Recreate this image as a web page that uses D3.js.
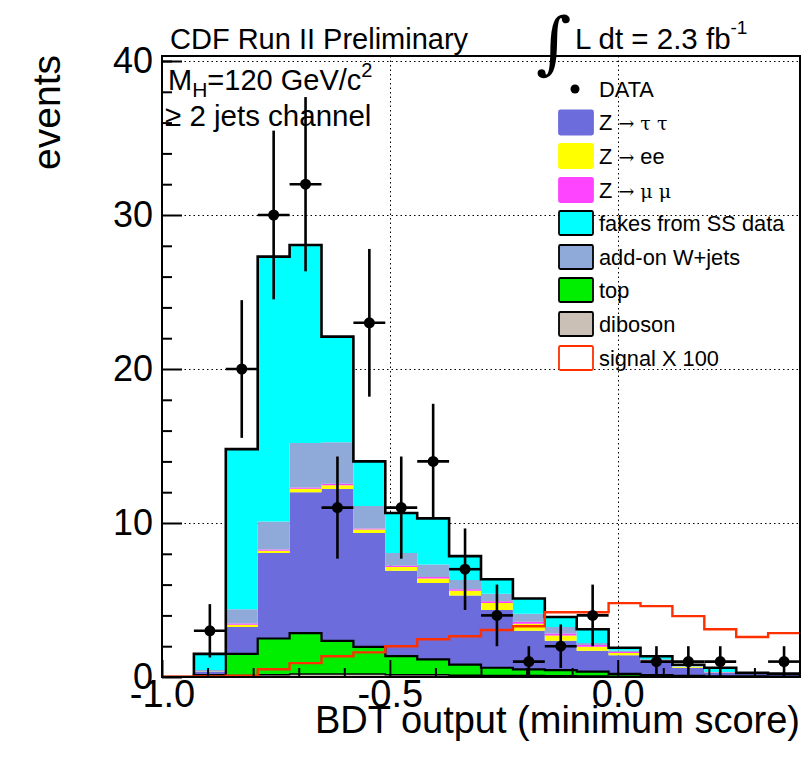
<!DOCTYPE html>
<html><head><meta charset="utf-8">
<script src="https://cdn.jsdelivr.net/npm/d3@7"></script>
<style>
body{margin:0;background:#fff}
svg{display:block;font-family:"Liberation Sans",Arial,Helvetica,sans-serif}
</style>
</head><body>
<svg id="chart" width="807" height="763"></svg>
<script>
// BDT output bins (lower edges) and the upper edge of the last bin
const binLow = [-1.00,-0.93,-0.86,-0.79,-0.72,-0.65,-0.58,-0.51,-0.44,-0.37,
                -0.30,-0.23,-0.16,-0.09,-0.02, 0.05, 0.12, 0.19, 0.26, 0.33];
const binHigh = 0.40;

// Observed events per bin
const dataCounts = [0,3,20,30,32,11,23,11,14,7,4,1,2,4,0,1,1,1,0,1];

// Background expectations, stacked bottom to top
const diboson = [0,0.05,0.10,0.15,0.20,0.20,0.20,0.15,0.15,0.12,0.10,0.10,0.08,0.06,0.05,0.04,0.03,0.02,0.02,0.02];
const topBkg  = [0,0.07,1.40,2.35,2.65,2.15,1.75,1.20,1.00,0.68,0.50,0.40,0.37,0.29,0.15,0.08,0.05,0.03,0.02,0.01];
const zTauTau = [0,0.23,1.75,5.55,9.15,9.85,7.40,5.55,4.95,4.50,3.75,2.50,1.90,1.35,1.22,0.88,0.52,0.25,0.18,0.15];
const zEE     = [0,0.02,0.15,0.15,0.22,0.25,0.22,0.25,0.30,0.30,0.45,0.45,0.35,0.27,0.14,0.07,0.06,0.01,0,0];
const zMuMu   = [0,0.01,0.08,0.08,0.08,0.10,0.07,0.07,0.10,0.10,0.12,0.13,0.12,0.10,0.06,0.03,0.02,0.01,0.01,0.01];
const wJets   = [0,0.07,0.92,1.82,2.90,2.70,1.46,0.83,0.80,0.60,0.48,0.52,0.43,0.13,0.10,0.05,0.02,0.01,0.01,0.01];
const fakesSS = [0,1.05,10.4,17.2,12.85,6.85,2.90,2.60,3.00,1.55,0.95,1.00,0.65,0.90,0.18,0.20,0.10,0.27,0.03,0.02];

// Higgs signal (M_H = 120), scaled by 100
const signalX100 = [0.02,0.03,0.08,0.50,0.90,1.35,1.60,2.00,2.45,2.65,3.05,3.30,4.20,4.20,4.80,4.60,3.95,3.10,2.60,2.85];

// Axis ticks
const yMajorTicks = [0,10,20,30,40];
const yMinorTicks = [2,4,6,8,12,14,16,18,22,24,26,28,32,34,36,38,40];
const xMajorTicks = [-1.0,-0.5,0.0];
const xTickLabels = ["-1.0","-0.5","0.0"];
const xMinorTicks = [-0.9,-0.8,-0.7,-0.6,-0.4,-0.3,-0.2,-0.1,0.1,0.2,0.3];

// Legend
const legendLabels = ["DATA","Z \u2192 \u03c4 \u03c4","Z \u2192 ee","Z \u2192 \u03bc \u03bc",
  "fakes from SS data","add-on W+jets","top","diboson","signal X 100"];

const seriesKeys = ["diboson","top","ztt","zee","zmm","wjets","fakes"];
const seriesValues = {diboson:diboson, top:topBkg, ztt:zTauTau, zee:zEE, zmm:zMuMu, wjets:wJets, fakes:fakesSS};
const fillColor = {diboson:"#cac0b6", top:"#00ee00", ztt:"#6c6cdc", zee:"#ffff00", zmm:"#ff44ff", wjets:"#8fa9d9", fakes:"#00ffff"};

const svg = d3.select("#chart");
const L = 162, R = 800, T = 56, B = 677;
const x = d3.scaleLinear().domain([-1.0, 0.4]).range([L, R]);
const y = d3.scaleLinear().domain([0, 40]).range([B, 61]);

// Clip region for everything drawn inside the frame
svg.append("defs").append("clipPath").attr("id","plotclip")
  .append("rect").attr("x",L).attr("y",T).attr("width",R-L).attr("height",B-T);

// Dotted grid
const grid = svg.append("g").attr("stroke","#000").attr("stroke-width",1).attr("stroke-dasharray","1.5,3");
grid.selectAll("line.h").data(yMajorTicks.filter(v=>v>0)).join("line")
  .attr("x1",L).attr("x2",R).attr("y1",d=>y(d)+0.5).attr("y2",d=>y(d)+0.5);
grid.selectAll("line.v").data(xMajorTicks.filter(v=>v>-1)).join("line")
  .attr("x1",d=>Math.round(x(d))+0.5).attr("x2",d=>Math.round(x(d))+0.5).attr("y1",T).attr("y2",B);

const plot = svg.append("g").attr("clip-path","url(#plotclip)");

// Stacked histogram
const rows = binLow.map((lo,i)=>{
  const r = {lo:lo};
  seriesKeys.forEach(k=>{ r[k] = seriesValues[k][i]; });
  return r;
});
const stacked = d3.stack().keys(seriesKeys)(rows);

function stepPoints(layer){
  const pts = layer.map((d,i)=>({x:binLow[i], y0:d[0], y1:d[1]}));
  const last = layer[layer.length-1];
  pts.push({x:binHigh, y0:last[0], y1:last[1]});
  return pts;
}
const area = d3.area().curve(d3.curveStepAfter)
  .x(p=>x(p.x)).y0(p=>y(p.y0)).y1(p=>y(p.y1));
stacked.forEach(layer=>{
  plot.append("path").attr("d",area(stepPoints(layer)))
    .attr("fill",fillColor[layer.key]).attr("stroke","none");
});

// Outlines of the cumulative histograms
const line = d3.line().curve(d3.curveStepAfter).x(p=>x(p.x)).y(p=>y(p.v));
function outlinePoints(vals){
  const pts = [{x:binLow[0], v:0}];
  vals.forEach((v,i)=>pts.push({x:binLow[i], v:v}));
  pts.push({x:binHigh, v:vals[vals.length-1]});
  pts.push({x:binHigh, v:0});
  return pts;
}
const layerByKey = {};
stacked.forEach(l=>{ layerByKey[l.key]=l; });
[["diboson",1.5],["top",2.2],["fakes",2.6]].forEach(([k,w])=>{
  plot.append("path").attr("d",line(outlinePoints(layerByKey[k].map(d=>d[1]))))
    .attr("fill","none").attr("stroke","#000").attr("stroke-width",w);
});

// Signal x 100
const sigPts = signalX100.map((v,i)=>({x:binLow[i], v:v}));
sigPts.push({x:binHigh, v:signalX100[signalX100.length-1]});
plot.append("path").attr("d",line(sigPts))
  .attr("fill","none").attr("stroke","#ff3000").attr("stroke-width",2.4);

// Data with Poisson errors
const dataPts = dataCounts.map((n,i)=>({lo:binLow[i], hi:(i+1<binLow.length?binLow[i+1]:binHigh), n:n}))
  .filter(d=>d.n>0);
const dg = plot.append("g").attr("stroke","#000").attr("stroke-width",2.6);
dg.selectAll("line.v").data(dataPts).join("line")
  .attr("x1",d=>x((d.lo+d.hi)/2)).attr("x2",d=>x((d.lo+d.hi)/2))
  .attr("y1",d=>y(d.n-Math.sqrt(d.n))).attr("y2",d=>y(d.n+Math.sqrt(d.n)));
dg.selectAll("line.h").data(dataPts).join("line")
  .attr("x1",d=>x(d.lo)).attr("x2",d=>x(d.hi)).attr("y1",d=>y(d.n)).attr("y2",d=>y(d.n));
plot.append("g").selectAll("circle").data(dataPts).join("circle")
  .attr("cx",d=>x((d.lo+d.hi)/2)).attr("cy",d=>y(d.n)).attr("r",5.5).attr("fill","#000");

// Axes
const yAxis = svg.append("g").attr("transform",`translate(${L},0)`)
  .call(d3.axisLeft(y).tickValues(yMajorTicks).tickSize(-20).tickPadding(9).tickFormat(d3.format("d")));
const yMinor = svg.append("g").attr("transform",`translate(${L},0)`)
  .call(d3.axisLeft(y).tickValues(yMinorTicks).tickSize(-10).tickFormat(""));
const xAxis = svg.append("g").attr("transform",`translate(0,${B})`)
  .call(d3.axisBottom(x).tickValues(xMajorTicks).tickSize(-17).tickPadding(3)
        .tickFormat((d,i)=>xTickLabels[i]));
const xMinor = svg.append("g").attr("transform",`translate(0,${B})`)
  .call(d3.axisBottom(x).tickValues(xMinorTicks).tickSize(-9).tickFormat(""));
[yAxis,yMinor,xAxis,xMinor].forEach(g=>{
  g.select(".domain").remove();
  g.selectAll(".tick line").attr("stroke","#000").attr("stroke-width",2);
  g.selectAll("text").attr("fill","#000").attr("font-size",36)
    .attr("font-family","'Liberation Sans',Arial,sans-serif");
});
xAxis.selectAll("text").attr("font-size",38);

// Frame
svg.append("rect").attr("x",L).attr("y",T).attr("width",R-L).attr("height",B-T)
  .attr("fill","none").attr("stroke","#000").attr("stroke-width",2);

// Axis titles
svg.append("text").attr("transform","translate(60,55) rotate(-90)")
  .attr("text-anchor","end").attr("font-size",39).text("events");
svg.append("text").attr("x",800).attr("y",733).attr("text-anchor","end")
  .attr("font-size",38).text("BDT output (minimum score)");

// Header texts
svg.append("text").attr("x",170).attr("y",49).attr("font-size",29).text("CDF Run II Preliminary");
svg.append("text").attr("x",536).attr("y",66).attr("font-size",68)
  .attr("font-family","'DejaVu Serif',serif").attr("font-style","italic").text("\u222b");
const lum = svg.append("text").attr("x",575).attr("y",49).attr("font-size",29.5);
lum.append("tspan").text("L dt = 2.3 fb");
lum.append("tspan").attr("font-size",19).attr("dy",-15).text("-1");

const mh = svg.append("text").attr("x",168).attr("y",90).attr("font-size",29);
mh.append("tspan").text("M");
mh.append("tspan").attr("font-size",21).attr("dy",7).text("H");
mh.append("tspan").attr("dy",-7).text("=120 GeV/c");
mh.append("tspan").attr("font-size",20).attr("dy",-13).text("2");
svg.append("text").attr("x",165).attr("y",126).attr("font-size",29.5).text("\u2265 2 jets channel");

// Legend
const legY = [89,122.5,156,190,223,257,290,324,358];
const lg = svg.append("g");
const boxStyle = [null,
  {fill:fillColor.ztt, stroke:fillColor.ztt},
  {fill:fillColor.zee, stroke:fillColor.zee},
  {fill:fillColor.zmm, stroke:fillColor.zmm},
  {fill:fillColor.fakes, stroke:"#000"},
  {fill:fillColor.wjets, stroke:"#000"},
  {fill:fillColor.top, stroke:"#000"},
  {fill:fillColor.diboson, stroke:"#000"},
  {fill:"#fff", stroke:"#ff3000"}];
legendLabels.forEach((lab,i)=>{
  const cy = legY[i];
  if(i===0){
    lg.append("circle").attr("cx",575).attr("cy",cy).attr("r",4.5).attr("fill","#000");
  } else {
    lg.append("rect").attr("x",559).attr("y",cy-12).attr("width",34).attr("height",24)
      .attr("rx",1.5).attr("fill",boxStyle[i].fill).attr("stroke",boxStyle[i].stroke).attr("stroke-width",1.8);
  }
  const t = lg.append("text").attr("x",599).attr("y",cy+7.5).attr("font-size",21.8);
  if(i>=1 && i<=3){
    const parts = lab.split(" ");
    t.append("tspan").text("Z ");
    t.append("tspan").attr("font-family","'DejaVu Serif',serif").attr("font-size",19).text("\u2192 ");
    const rest = parts.slice(2).join(" ");
    if(i===2) t.append("tspan").text(rest);
    else t.append("tspan").attr("font-family","'DejaVu Serif',serif").attr("font-size",19).text(rest);
  } else {
    t.text(lab);
  }
});
</script>
</body></html>
